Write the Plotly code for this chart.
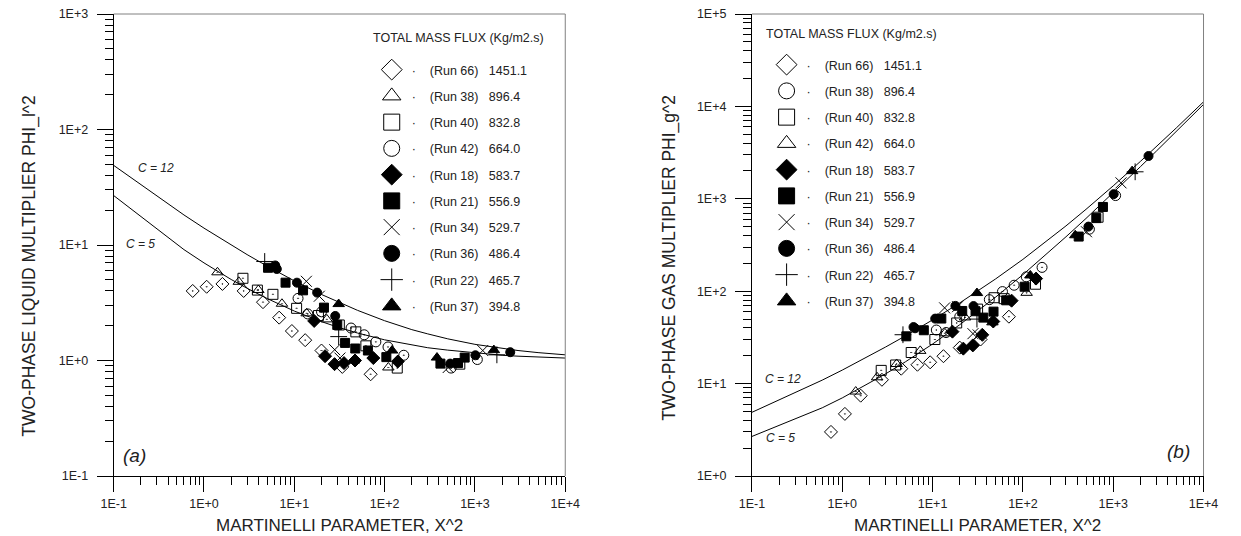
import plotly.graph_objects as go

# ---------------- data ----------------
runs = ["Run 66", "Run 38", "Run 40", "Run 42", "Run 18", "Run 21", "Run 34", "Run 36", "Run 22", "Run 37"]
flux = ["1451.1", "896.4", "832.8", "664.0", "583.7", "556.9", "529.7", "486.4", "465.7", "394.8"]

# symbol series (same X^2 in both panels)
dia_open_x = [0.75, 1.07, 1.6, 2.75, 4.5, 6.8, 9.4, 13.2, 20, 34, 70]
dia_open_liq = [4.0, 4.35, 4.6, 4.0, 3.2, 2.35, 1.8, 1.5, 1.22, 0.88, 0.76]
dia_open_gas = [3.0, 4.7, 7.4, 11.0, 14.5, 16.0, 17.0, 19.8, 24.5, 30, 53]

tri_open_x = [1.41, 2.43, 4.0, 7.3, 13.7, 22.9, 110]
tri_open_liq = [5.8, 4.8, 4.08, 3.1, 2.56, 2.27, 0.87]
tri_open_gas = [8.2, 11.7, 16.3, 22.6, 35, 52, 96]

sq_open_x = [2.7, 3.9, 5.8, 10.6, 18.5, 31.5, 48, 62, 138, 680]
sq_open_liq = [5.15, 4.07, 3.74, 2.83, 2.45, 2.03, 1.77, 1.34, 0.86, 0.93]
sq_open_gas = [13.9, 15.9, 21.7, 30, 45.3, 64, 85, 83, 119, 632]

circ_open_x = [11, 14.1, 20, 42.5, 59.4, 80, 109, 163, 545, 1063]
circ_open_liq = [3.45, 2.53, 2.64, 1.91, 1.67, 1.45, 1.31, 1.11, 0.86, 1.02]
circ_open_gas = [38, 35.7, 53, 81, 99, 116, 143, 181, 469, 1084]

dia_fill_x = [16.6, 21.9, 27.9, 35.5, 47, 75, 140]
dia_fill_liq = [2.2, 1.09, 0.93, 0.95, 1.0, 1.05, 0.98]
dia_fill_gas = [36.5, 23.9, 25.9, 33.7, 47, 79, 137]

sq_fill_x = [5.12, 8.0, 12.5, 21.3, 29.9, 36.5, 47.3, 65.3, 104.5, 415, 650, 770]
sq_fill_liq = [6.35, 4.72, 4.05, 2.87, 2.03, 1.42, 1.27, 1.22, 1.07, 0.94, 0.95, 1.06]
sq_fill_gas = [32.5, 37.8, 50.6, 61.1, 60.7, 51.8, 60.1, 79.7, 111.8, 390, 618, 816]

xmark_x = [13.6, 18.9, 28, 32, 506, 1220]
xmark_liq = [4.85, 3.6, 1.24, 1.05, 0.87, 1.22]
xmark_gas = [66, 68, 34.7, 33.6, 440, 1488]

circ_fill_x = [6.15, 6.4, 10.7, 17.9, 28.4, 532, 1012, 2460]
circ_fill_liq = [6.65, 6.2, 4.72, 3.87, 2.43, 0.94, 1.11, 1.18]
circ_fill_gas = [40.9, 39.7, 50.5, 69.3, 69, 500, 1123, 2903]

plus_x = [4.7, 31, 1750]
plus_liq = [7.2, 1.61, 1.12]
plus_gas = [33.8, 49.9, 1960]

tri_fill_x = [31, 46, 121, 380, 1620]
tri_fill_liq = [3.08, 1.0, 1.22, 1.06, 1.23]
tri_fill_gas = [95.5, 46, 148, 403, 1993]

# correlation curves C = 12 and C = 5
curve_x = [0.1, 0.6, 1, 2, 3, 5, 10, 20, 30, 50, 100, 200, 300, 500, 1000, 2000, 3000, 5000, 10000]
liq_c12 = [48.9, 18.2, 14.0, 9.98, 8.26, 6.57, 4.89, 3.73, 3.22, 2.72, 2.21, 1.85, 1.70, 1.54, 1.38, 1.27, 1.22, 1.17, 1.12]
liq_c5 = [26.8, 9.12, 7.0, 5.03, 4.22, 3.44, 2.68, 2.17, 1.95, 1.73, 1.51, 1.36, 1.29, 1.23, 1.16, 1.11, 1.09, 1.07, 1.05]
gas_c12 = [4.89, 10.9, 14.0, 20.0, 24.8, 32.8, 48.9, 74.7, 96.7, 136, 221, 371, 509, 769, 1380, 2538, 3658, 5850, 11200]
gas_c5 = [2.68, 5.47, 7.0, 10.1, 12.7, 17.2, 26.8, 43.4, 58.4, 86.4, 151, 272, 388, 613, 1159, 2225, 3275, 5355, 10500]

x_ticks = [0.1, 1, 10, 100, 1000, 10000]
x_ticktext = ["1E-1", "1E+0", "1E+1", "1E+2", "1E+3", "1E+4"]
yl_ticks = [0.1, 1, 10, 100, 1000]
yl_ticktext = ["1E-1", "1E+0", "1E+1", "1E+2", "1E+3"]
yg_ticks = [1, 10, 100, 1000, 10000, 100000]
yg_ticktext = ["1E+0", "1E+1", "1E+2", "1E+3", "1E+4", "1E+5"]

legend_title = "TOTAL MASS FLUX (Kg/m2.s)"
x_title = "MARTINELLI PARAMETER, X^2"
yl_title = "TWO-PHASE LIQUID MULTIPLIER PHI_l^2"
yg_title = "TWO-PHASE GAS MULTIPLIER PHI_g^2"

# ---------------- styling ----------------
FONT = "Liberation Sans, Arial, sans-serif"
TXT = "#222222"

series = {
    "dia_open": (dia_open_x, dia_open_liq, dia_open_gas, "diamond-open-dot", "diamond-open", 10),
    "tri_open": (tri_open_x, tri_open_liq, tri_open_gas, "triangle-up-open-dot", "triangle-up-open", 10),
    "sq_open": (sq_open_x, sq_open_liq, sq_open_gas, "square-open-dot", "square-open", 10),
    "circ_open": (circ_open_x, circ_open_liq, circ_open_gas, "circle-open-dot", "circle-open", 10),
    "dia_fill": (dia_fill_x, dia_fill_liq, dia_fill_gas, "diamond", "diamond", 10),
    "sq_fill": (sq_fill_x, sq_fill_liq, sq_fill_gas, "square", "square", 9),
    "xmark": (xmark_x, xmark_liq, xmark_gas, "x-thin-open", "x-thin-open", 11),
    "circ_fill": (circ_fill_x, circ_fill_liq, circ_fill_gas, "circle", "circle", 9),
    "plus": (plus_x, plus_liq, plus_gas, "cross-thin-open", "cross-thin-open", 12),
    "tri_fill": (tri_fill_x, tri_fill_liq, tri_fill_gas, "triangle-up", "triangle-up", 10),
}
left_legend = ["dia_open", "tri_open", "sq_open", "circ_open", "dia_fill", "sq_fill", "xmark", "circ_fill", "plus", "tri_fill"]
right_legend = ["dia_open", "circ_open", "sq_open", "tri_open", "dia_fill", "sq_fill", "xmark", "circ_fill", "plus", "tri_fill"]

fig = go.Figure()

def marker(sym, size):
    return dict(symbol=sym, size=size, color="black", line=dict(color="black", width=1))

# curves
for xa, ya, c12, c5 in [("x", "y", liq_c12, liq_c5), ("x2", "y2", gas_c12, gas_c5)]:
    for cy in (c12, c5):
        fig.add_trace(go.Scatter(x=curve_x, y=cy, mode="lines", xaxis=xa, yaxis=ya,
                                 line=dict(color="black", width=1), showlegend=False, hoverinfo="skip"))

# data points
for key, (sx, sl, sg, sym, _, size) in series.items():
    fig.add_trace(go.Scatter(x=sx, y=sl, mode="markers", xaxis="x", yaxis="y",
                             marker=marker(sym, size), showlegend=False))
    fig.add_trace(go.Scatter(x=sx, y=sg, mode="markers", xaxis="x2", yaxis="y2",
                             marker=marker(sym, size), showlegend=False))

# legend entries
NB = "\u00a0"
for panel, order, lg, xa, ya in [("L", left_legend, "legend", "x", "y"), ("R", right_legend, "legend2", "x2", "y2")]:
    for i, key in enumerate(order):
        sym_leg = series[key][4]
        label = "\u00b7" + NB * 4 + "(" + runs[i] + ")" + NB * 3 + flux[i]
        fig.add_trace(go.Scatter(x=[None], y=[None], mode="markers", xaxis=xa, yaxis=ya,
                                 marker=marker(sym_leg, 16), name=label, legend=lg,
                                 legendgroup=panel + str(i), showlegend=True))

minor_x = [d * 10 ** k for k in range(-1, 4) for d in range(2, 10)]
minor_yl = [d * 10 ** k for k in range(-1, 3) for d in range(2, 10)]
minor_yg = [d * 10 ** k for k in range(0, 5) for d in range(2, 10)]

def axis(domain, rng, tv, tt, minor_vals, anchor, ticklen, standoff):
    return dict(type="log", domain=domain, range=rng, tickvals=tv, ticktext=tt,
                ticks="outside", ticklen=ticklen, tickwidth=1, tickcolor="black",
                showline=True, linecolor="black", linewidth=1, showgrid=False, zeroline=False,
                tickfont=dict(family=FONT, size=12.5, color=TXT), anchor=anchor,
                minor=dict(ticks="outside", ticklen=8, tickwidth=1, tickcolor="black",
                           tickvals=minor_vals, showgrid=False),
                ticklabelstandoff=standoff)

W, H = 1241, 536
xd1 = [103 / W, 565 / W]
xd2 = [756 / W, 1218 / W]

leg_common = dict(xanchor="left", yanchor="top", bgcolor="rgba(0,0,0,0)", borderwidth=0,
                  font=dict(family=FONT, size=12.5, color=TXT), tracegroupgap=7,
                  itemsizing="trace", itemclick=False, itemdoubleclick=False)

fig.update_layout(
    width=W, height=H, margin=dict(l=0, r=0, t=14, b=60),
    paper_bgcolor="white", plot_bgcolor="white",
    xaxis=axis(xd1, [-1, 4], x_ticks, x_ticktext, minor_x, "y", 15, 1),
    yaxis=axis([0, 1], [-1, 3], yl_ticks, yl_ticktext, minor_yl, "x", 16, 6),
    xaxis2=axis(xd2, [-1, 4], x_ticks, x_ticktext, minor_x, "y2", 15, 1),
    yaxis2=axis([0, 1], [0, 5], yg_ticks, yg_ticktext, minor_yg, "x2", 16, 6),
    legend=dict(x=367 / W, y=(476 - 55) / 462, **leg_common),
    legend2=dict(x=771 / W, y=(476 - 50) / 462, **leg_common),
    showlegend=True,
)

# top / right frame lines
for xr, yr in [("x domain", "y domain"), ("x2 domain", "y2 domain")]:
    fig.add_shape(type="line", xref=xr, yref=yr, x0=0, x1=1, y0=1, y1=1, line=dict(color="#808080", width=1))
    fig.add_shape(type="line", xref=xr, yref=yr, x0=1, x1=1, y0=0, y1=1, line=dict(color="#808080", width=1))

def ann(text, x, y, xref, yref, size, italic=False, angle=0, xanchor="center"):
    fig.add_annotation(text=text, x=x, y=y, xref=xref, yref=yref, showarrow=False,
                       xanchor=xanchor, yanchor="middle", textangle=angle,
                       font=dict(family=FONT, size=size, color=TXT, style="italic" if italic else "normal"))

# legend titles
ann(legend_title, 366 / W, (476 - 38) / 462, "paper", "paper", 12.5, xanchor="left")
ann(legend_title, 768 / W, (476 - 34) / 462, "paper", "paper", 12.5, xanchor="left")

# axis titles
ann(x_title, 0.5, (476 - 525) / 462, "x domain", "y domain", 17)
ann(x_title, 0.5, (476 - 525) / 462, "x2 domain", "y2 domain", 17)
ann(yl_title, 16 / W, (476 - 266) / 462, "paper", "paper", 17.5, angle=-90)
ann(yg_title, 671 / W, (476 - 258) / 462, "paper", "paper", 17.5, angle=-90)

# curve labels and panel tags
ann("C = 12", (146 - 103) / 462, (476 - 168) / 462, "x domain", "y domain", 12, italic=True)
ann("C = 5", (130 - 103) / 462, (476 - 243.6) / 462, "x domain", "y domain", 12, italic=True)
ann("(a)", (124 - 103) / 462, (476 - 455) / 462, "x domain", "y domain", 19, italic=True)
ann("C = 12", (788 - 756) / 462, (476 - 379) / 462, "x2 domain", "y2 domain", 12, italic=True)
ann("C = 5", (785 - 756) / 462, (476 - 438) / 462, "x2 domain", "y2 domain", 12, italic=True)
ann("(b)", (1192.5 - 756) / 462, (476 - 451) / 462, "x2 domain", "y2 domain", 19, italic=True)

fig.write_html("out.html")
